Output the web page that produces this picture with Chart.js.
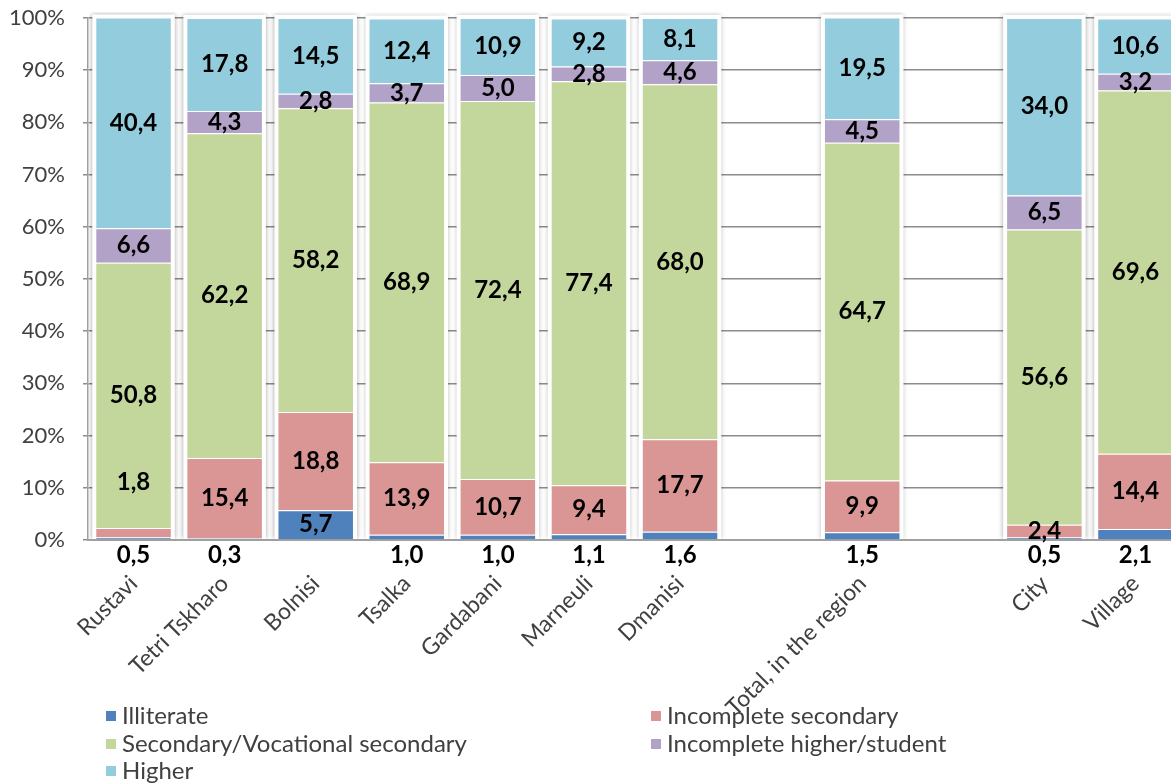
<!DOCTYPE html>
<html>
<head>
<meta charset="utf-8">
<title>Education level by municipality</title>
<script src="https://cdn.jsdelivr.net/npm/chart.js@4"></script>
<style>
  html, body { margin: 0; padding: 0; background: #fff; overflow: hidden; }
  #wrap { position: relative; width: 1181px; height: 784px; }
</style>
</head>
<body>
<div id="wrap"><canvas id="eduChart"></canvas></div>
<script>
// categories ('' = empty spacer slot)
const categories = ['Rustavi', 'Tetri Tskharo', 'Bolnisi', 'Tsalka', 'Gardabani', 'Marneuli', 'Dmanisi', '', 'Total, in the region', '', 'City', 'Village'];

// shares, %
const illiterate          = [0.5, 0.3, 5.7, 1.0, 1.0, 1.1, 1.6, null, 1.5, null, 0.5, 2.1];
const incompleteSecondary = [1.8, 15.4, 18.8, 13.9, 10.7, 9.4, 17.7, null, 9.9, null, 2.4, 14.4];
const secondaryVocational = [50.8, 62.2, 58.2, 68.9, 72.4, 77.4, 68.0, null, 64.7, null, 56.6, 69.6];
const incompleteHigher    = [6.6, 4.3, 2.8, 3.7, 5.0, 2.8, 4.6, null, 4.5, null, 6.5, 3.2];
const higher              = [40.4, 17.8, 14.5, 12.4, 10.9, 9.2, 8.1, null, 19.5, null, 34.0, 10.6];

const seriesNames = ['Illiterate', 'Incomplete secondary', 'Secondary/Vocational secondary', 'Incomplete higher/student', 'Higher'];
const seriesColors = ['#4f81bd', '#d99694', '#c3d69b', '#b3a2c7', '#93cddd'];

const FONT = 'Lato, "Open Sans", sans-serif';
const fmt = v => v.toFixed(1).replace('.', ',');

Chart.defaults.font.family = FONT;
Chart.defaults.font.size = 23;
Chart.defaults.color = '#404040';

// white halo with a soft shadow behind every stacked column
const barHalo = {
  id: 'barHalo',
  beforeDatasetsDraw(chart) {
    const ctx = chart.ctx;
    const area = chart.chartArea;
    const first = chart.getDatasetMeta(0).data;
    const last = chart.getDatasetMeta(chart.data.datasets.length - 1).data;
    ctx.save();
    ctx.beginPath();
    ctx.rect(area.left + 1, area.top - 6, area.right - area.left, area.bottom - area.top + 5);
    ctx.clip();
    first.forEach((bar, i) => {
      if (illiterate[i] == null) return;
      const top = last[i].y;
      const left = bar.x - bar.width / 2;
      ctx.shadowColor = 'rgba(0,0,0,0.35)';
      ctx.shadowBlur = 5;
      ctx.fillStyle = '#fff';
      ctx.fillRect(left - 3, top - 3, bar.width + 6, bar.base - top + 3);
    });
    ctx.restore();
  }
};

// value labels inside the segments
const valueLabels = {
  id: 'valueLabels',
  afterDatasetsDraw(chart) {
    const ctx = chart.ctx;
    const bottom = chart.chartArea.bottom;
    ctx.save();
    ctx.font = 'bold 24px ' + FONT;
    ctx.fillStyle = '#000';
    ctx.textAlign = 'center';
    ctx.textBaseline = 'middle';
    chart.data.datasets.forEach((ds, di) => {
      chart.getDatasetMeta(di).data.forEach((bar, i) => {
        const v = ds.data[i];
        if (v == null) return;
        let y = (bar.y + bar.base) / 2;
        if (di === 0 && v < 3) y = bottom + 15;       // thin illiterate slices: label under the axis
        else if (di === 1 && v < 2) y = bar.y - 46;  // too thin, lift into the next segment
        ctx.fillText(fmt(v), bar.x, y);
      });
    });
    ctx.restore();
  }
};

// two-column legend at the bottom
const gridLegend = {
  id: 'gridLegend',
  afterDraw(chart) {
    const ctx = chart.ctx;
    const cols = [106, 651];
    const rows = [716, 744, 771];
    ctx.save();
    ctx.font = '24px ' + FONT;
    ctx.textBaseline = 'middle';
    ctx.textAlign = 'left';
    chart.data.datasets.forEach((ds, i) => {
      const x = cols[i % 2];
      const y = rows[Math.floor(i / 2)];
      ctx.fillStyle = ds.backgroundColor;
      ctx.fillRect(x, y - 5, 10, 10);
      ctx.fillStyle = '#404040';
      ctx.fillText(ds.label, x + 16, y);
    });
    ctx.restore();
  }
};

const seriesData = [illiterate, incompleteSecondary, secondaryVocational, incompleteHigher, higher];

new Chart(document.getElementById('eduChart'), {
  type: 'bar',
  data: {
    labels: categories,
    datasets: seriesData.map((d, i) => ({
      label: seriesNames[i],
      data: d,
      backgroundColor: seriesColors[i],
      borderColor: '#fff',
      borderWidth: 1,
      categoryPercentage: 1,
      barPercentage: 0.84
    }))
  },
  options: {
    responsive: true,
    maintainAspectRatio: false,
    animation: false,
    layout: { padding: { top: 18, right: 0, bottom: 0, left: 0 } },
    plugins: {
      legend: { display: false },
      tooltip: { enabled: false }
    },
    scales: {
      x: {
        stacked: true,
        afterFit: s => { s.height = 244; },
        grid: { display: false },
        border: { display: true, color: '#a0a0a0', width: 2 },
        ticks: { autoSkip: false, maxRotation: 45, minRotation: 45, padding: 22, color: '#404040' }
      },
      y: {
        stacked: true,
        min: 0,
        max: 100,
        // fixed axis width; drop the label overhang so the plot starts at the layout padding
        afterFit: s => { s.width = 88; s.paddingTop = 0; s.paddingBottom = 0; },
        grid: { color: '#8c8c8c', lineWidth: 1.5, tickLength: 5 },
        border: { display: true, color: '#a0a0a0', width: 1.5 },
        ticks: { stepSize: 10, padding: 18, color: '#404040', font: { size: 22 }, callback: v => v + '%' }
      }
    }
  },
  plugins: [barHalo, valueLabels, gridLegend]
});
</script>
</body>
</html>
